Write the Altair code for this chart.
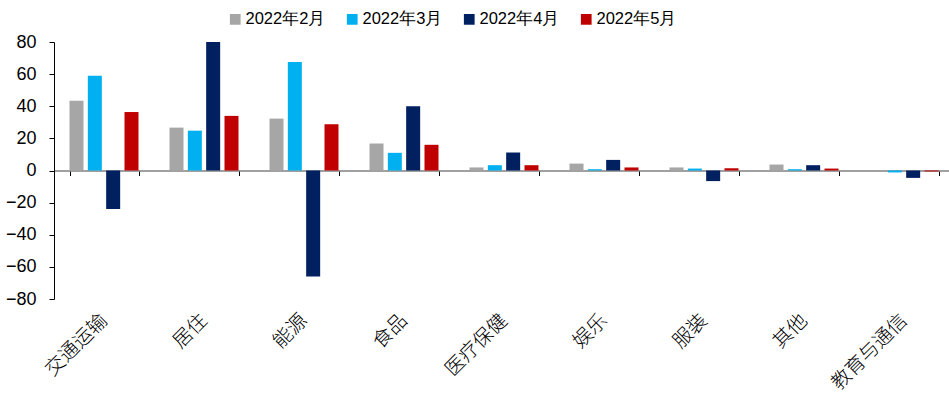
import altair as alt
import pandas as pd

# Categories and monthly series
categories = ["交通运输", "居住", "能源", "食品", "医疗保健", "娱乐", "服装", "其他", "教育与通信"]
series = ["2022年2月", "2022年3月", "2022年4月", "2022年5月"]
feb = [43.5, 26.7, 32.3, 16.8, 1.9, 4.3, 1.9, 3.7, 0.0]
mar = [59.0, 24.8, 67.5, 11.0, 3.3, 0.8, 1.2, 0.8, -1.2]
apr = [-24.0, 80.0, -66.0, 40.0, 11.2, 6.6, -6.6, 3.3, -4.6]
may = [36.4, 34.0, 28.8, 16.0, 3.3, 1.9, 1.4, 1.2, -0.6]
colors = ["#A6A6A6", "#00B0F0", "#002060", "#C00000"]
y_ticks = [-80, -60, -40, -20, 0, 20, 40, 60, 80]

rows = []
for name, vals in zip(series, [feb, mar, apr, may]):
    for c, v in zip(categories, vals):
        rows.append({"类别": c, "月份": name, "值": v})
df = pd.DataFrame(rows)

FONT = "Liberation Sans"
CJK = "Noto Sans CJK SC"

x_scale = alt.Scale(range=[0, 900], paddingInner=0.31, paddingOuter=0.155)
y_scale = alt.Scale(domain=[-80, 80], nice=False)

label_axis = alt.Axis(
    orient="bottom", title=None, domain=False, ticks=False,
    labelAngle=315, labelAlign="right", labelBaseline="middle",
    labelPadding=18, labelFont=CJK, labelFontSize=19.5, labelFontWeight=300,
    labelColor="#000000",
)
zero_axis = alt.Axis(
    orient="bottom", title=None, labels=False, offset=-128.5,
    domainColor="#808080", domainWidth=1.5,
    tickColor="#000000", tickSize=5, tickWidth=1, tickBand="extent",
)
y_axis = alt.Axis(
    title=None, values=y_ticks, grid=False,
    domainColor="#000000", domainWidth=1, tickColor="#000000", tickSize=5,
    labelFont=FONT, labelFontSize=18, labelColor="#000000", labelPadding=13,
)

base = alt.Chart(df)

bars = base.mark_bar().encode(
    x=alt.X("类别:N", sort=categories, scale=x_scale, axis=label_axis),
    xOffset=alt.XOffset("月份:N", sort=series,
                        scale=alt.Scale(paddingInner=0.236, paddingOuter=0)),
    y=alt.Y("值:Q", scale=y_scale, axis=y_axis),
    color=alt.Color(
        "月份:N", sort=series,
        scale=alt.Scale(domain=series, range=colors),
        legend=alt.Legend(
            title=None, orient="none", direction="horizontal", columns=4,
            legendX=173, legendY=-31,
            symbolType="square", symbolSize=115, symbolStrokeWidth=0,
            labelFont=FONT, labelFontSize=16.5, labelColor="#000000",
            labelOffset=2, columnPadding=18,
        ),
    ),
)

# Invisible layer that carries the axis drawn along the zero line
zero_line = base.mark_point(opacity=0).encode(
    x=alt.X("类别:N", sort=categories, scale=x_scale, axis=zero_axis),
    y=alt.Y("值:Q", scale=y_scale, axis=y_axis),
)

chart = (
    alt.layer(bars, zero_line)
    .resolve_axis(x="independent")
    .properties(
        width=895, height=257,
        autosize=alt.AutoSizeParams(type="none"),
        padding={"left": 54, "top": 42, "right": 0, "bottom": 99},
        background="#ffffff",
    )
    .configure_view(stroke=None)
)

chart.save("out.html", embed_options={"renderer": "svg", "actions": False})
